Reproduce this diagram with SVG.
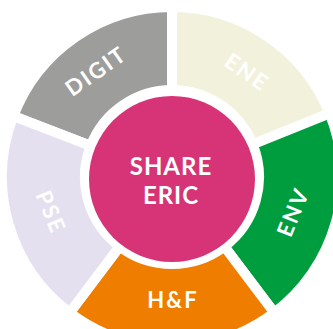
<svg xmlns="http://www.w3.org/2000/svg" width="333" height="329" viewBox="0 0 333 329">
<style>
.seg{stroke:#fff;stroke-width:10;stroke-linejoin:miter}
.lbl{font-family:Lato,"Open Sans","DejaVu Sans",sans-serif;font-weight:700;fill:#fff;text-anchor:middle}
.ring{font-size:22px;letter-spacing:2px}
.ctr{font-size:24px;letter-spacing:1px}
</style>
<rect width="333" height="329" fill="#fff"/>
<g id="DIGIT">
<path class="seg" fill="#9d9d9c" d="M13.29,116.08 A170,170 0 0 1 172,7 L172,90 A87,87 0 0 0 90.78,145.82 Z"/>
<text class="lbl ring" transform="translate(96,71) rotate(-35)" dy="0.36em">DIGIT</text>
</g>
<g id="ENE">
<path class="seg" fill="#f2f2dc" d="M172,7 A170,170 0 0 1 329.62,113.32 L252.66,144.41 A87,87 0 0 0 172,90 Z"/>
<text class="lbl ring" transform="translate(247,72) rotate(35)" dy="0.36em">ENE</text>
</g>
<g id="ENV">
<path class="seg" fill="#009d3f" d="M329.62,113.32 A170,170 0 0 1 274.31,312.77 L224.36,246.48 A87,87 0 0 0 252.66,144.41 Z"/>
<text class="lbl ring" transform="translate(293,212) rotate(-68)" dy="0.36em">ENV</text>
</g>
<g id="HF">
<path class="seg" fill="#ee7d00" d="M274.31,312.77 A170,170 0 0 1 69.69,312.77 L119.64,246.48 A87,87 0 0 0 224.36,246.48 Z"/>
<text class="lbl ring" x="173" y="308">H&amp;F</text>
</g>
<g id="PSE">
<path class="seg" fill="#e5e0f0" d="M69.69,312.77 A170,170 0 0 1 13.29,116.08 L90.78,145.82 A87,87 0 0 0 119.64,246.48 Z"/>
<text class="lbl ring" transform="translate(51,212) rotate(68)" dy="0.36em">PSE</text>
</g>
<g id="SHARE_ERIC">
<circle cx="172" cy="179" r="83" fill="#d63477"/>
<text class="lbl ctr" x="171" y="175">SHARE</text>
<text class="lbl ctr" x="171" y="204">ERIC</text>
</g>
<g id="connectors"/>
</svg>
